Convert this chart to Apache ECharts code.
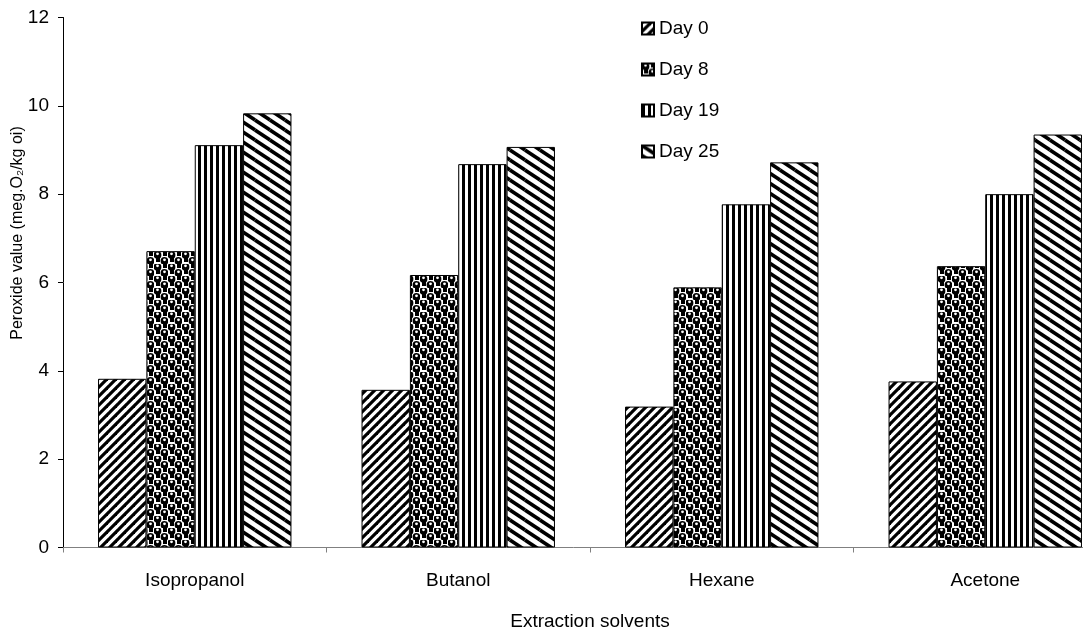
<!DOCTYPE html>
<html><head><meta charset="utf-8">
<script src="https://cdn.jsdelivr.net/npm/echarts@6/dist/echarts.min.js"></script>
<style>html,body{margin:0;padding:0;background:#fff}#c{width:1083px;height:628px}</style>
</head><body><div id="c"></div>
<script>
var categories = ['Isopropanol', 'Butanol', 'Hexane', 'Acetone'];
var seriesNames = ['Day 0', 'Day 8', 'Day 19', 'Day 25'];
var day0 = [3.82, 3.57, 3.19, 3.76];
var day8 = [6.71, 6.17, 5.89, 6.37];
var day19 = [9.11, 8.68, 7.77, 8.00];
var day25 = [9.83, 9.07, 8.72, 9.35];
var yTicks = [0, 2, 4, 6, 8, 10, 12];

function tile(w, h, draw) {
  var c = document.createElement('canvas');
  c.width = w; c.height = h;
  var g = c.getContext('2d');
  g.fillStyle = '#fff'; g.fillRect(0, 0, w, h);
  g.fillStyle = '#000'; g.strokeStyle = '#000';
  draw(g, w, h);
  return { image: c, repeat: 'repeat' };
}
function lines(g, segs, lw) {
  g.lineWidth = lw;
  segs.forEach(function (s) { g.beginPath(); g.moveTo(s[0], s[1]); g.lineTo(s[2], s[3]); g.stroke(); });
}
function dot(g, x, y, r, col) {
  g.fillStyle = col; g.beginPath(); g.arc(x, y, r, 0, Math.PI * 2); g.fill();
}
var pat0 = tile(9, 9, function (g, w, h) {
  lines(g, [[-w, h, w, -h], [0, 2 * h, 2 * w, 0], [-w, 2 * h, 2 * w, -h]], 3.2);
});
var pat8 = tile(14, 12, function (g) {
  dot(g, 3.5, 3, 3.9, '#000'); dot(g, 10.5, 9, 3.9, '#000');
  dot(g, 3.5, 1.8, 1.4, '#fff'); dot(g, 10.5, 7.8, 1.4, '#fff');
  g.fillStyle = '#000';
  g.fillRect(9, 0, 4, 4); g.fillRect(2, 6, 4, 4);
});
var pat19 = tile(6, 6, function (g) { g.fillRect(0, 0, 3, 6); });
var pat25 = tile(15, 10, function (g, w, h) {
  lines(g, [[0, 0, w, h], [-w, 0, 0, h], [w, 0, 2 * w, h], [0, -h, w, 0], [0, h, w, 2 * h]], 3.6);
});
var patterns = [pat0, pat8, pat19, pat25];
var allData = [day0, day8, day19, day25];

var font = '"Liberation Sans", Arial, sans-serif';
var fs = 19;
var chart = echarts.init(document.getElementById('c'));
chart.setOption({
  animation: false,
  backgroundColor: '#fff',
  grid: { left: 63, right: -34, top: 17.5, bottom: 80.5, containLabel: false, outerBoundsMode: 'none' },
  graphic: [{
    type: 'text', x: 18, y: 233, rotation: Math.PI / 2,
    style: {
      text: 'Peroxide value (meg.O\u2082/kg oi)', fill: '#000',
      font: '16px "Liberation Sans", Arial, sans-serif',
      textAlign: 'center', textVerticalAlign: 'middle'
    }
  }],
  legend: {
    orient: 'vertical', left: 636, top: 14, itemWidth: 12, itemHeight: 12, itemGap: 22,
    icon: 'rect',
    data: seriesNames,
    textStyle: { fontFamily: font, fontSize: fs, color: '#000', lineHeight: 19 }
  },
  xAxis: {
    type: 'category', data: categories,
    name: 'Extraction solvents', nameLocation: 'middle', nameGap: 65,
    nameTextStyle: { fontFamily: font, fontSize: fs, color: '#000' },
    axisLine: { lineStyle: { color: '#808080', width: 1 } },
    axisTick: { show: true, alignWithLabel: false, length: 5, lineStyle: { color: '#808080' } },
    axisLabel: { fontFamily: font, fontSize: fs, color: '#000', margin: 24 }
  },
  yAxis: {
    type: 'value', min: yTicks[0], max: yTicks[yTicks.length - 1], interval: 2,
    axisLine: { show: true, lineStyle: { color: '#000', width: 1 } },
    axisTick: { show: true, length: 5, lineStyle: { color: '#000' } },
    axisLabel: { fontFamily: font, fontSize: fs, color: '#000', margin: 14 },
    splitLine: { show: false }
  },
  series: seriesNames.map(function (n, i) {
    return {
      name: n, type: 'bar', data: allData[i],
      barGap: '0%', barCategoryGap: '26.6%',
      itemStyle: { color: patterns[i], borderColor: '#000', borderWidth: 1 }
    };
  })
});
</script></body></html>
